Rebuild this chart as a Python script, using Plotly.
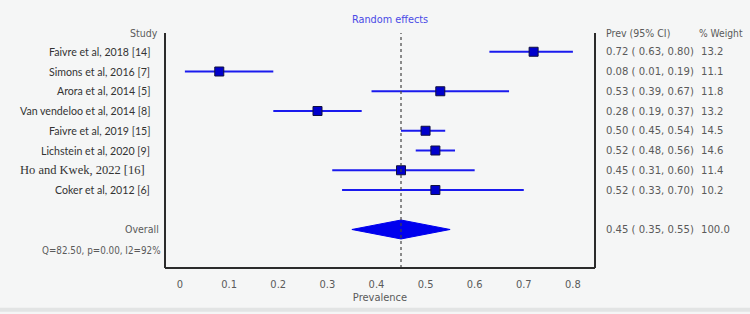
import plotly.graph_objects as go

studies = ["Faivre et al, 2018 [14]", "Simons et al, 2016 [7]", "Arora et al, 2014 [5]",
           "Van vendeloo et al, 2014 [8]", "Faivre et al, 2019 [15]", "Lichstein et al, 2020 [9]",
           "Ho and Kwek, 2022 [16]", "Coker et al, 2012 [6]"]
prev = [0.72, 0.08, 0.53, 0.28, 0.50, 0.52, 0.45, 0.52]
lo = [0.63, 0.01, 0.39, 0.19, 0.45, 0.48, 0.31, 0.33]
hi = [0.80, 0.19, 0.67, 0.37, 0.54, 0.56, 0.60, 0.70]
weight = [13.2, 11.1, 11.8, 13.2, 14.5, 14.6, 11.4, 10.2]
overall = 0.45
overall_lo = 0.35
overall_hi = 0.55
overall_weight = 100.0
het_text = "Q=82.50, p=0.00, I2=92%"
tick_vals = [0, 0.1, 0.2, 0.3, 0.4, 0.5, 0.6, 0.7, 0.8]
tick_text = ["0", "0.1", "0.2", "0.3", "0.4", "0.5", "0.6", "0.7", "0.8"]

rows = list(range(len(studies)))
overall_row = len(studies) + 1

BLUE = "#1a1aee"
LABEL_FONT = "Lato, 'Open Sans', sans-serif"
NARROW = "'DejaVu Sans Condensed', 'Liberation Sans Narrow', 'Liberation Sans', sans-serif"
GRAY = "#5a5a5a"

fig = go.Figure()

fig.add_trace(go.Scatter(
    x=prev, y=rows, mode="markers",
    marker=dict(symbol="square", size=9, color="#0000cc", line=dict(color="#101040", width=1)),
    error_x=dict(type="data", symmetric=False,
                 array=[h - p for h, p in zip(hi, prev)],
                 arrayminus=[p - l for p, l in zip(prev, lo)],
                 color=BLUE, thickness=2, width=0),
    showlegend=False, hoverinfo="skip"))

fig.add_trace(go.Scatter(
    x=[overall_lo, overall, overall_hi, overall, overall_lo],
    y=[overall_row, overall_row - 0.48, overall_row, overall_row + 0.48, overall_row],
    mode="lines", fill="toself", fillcolor="#0000ee",
    line=dict(color="#0000ee", width=1), showlegend=False, hoverinfo="skip"))

fig.add_shape(type="line", xref="x", yref="paper", x0=overall, x1=overall, y0=0, y1=1,
              line=dict(color="#444", width=1.2, dash="dot"))

for x0, x1, y0, y1 in [(0, 0, 0, 1), (1, 1, 0, 1), (0, 1, 0, 0)]:
    fig.add_shape(type="line", xref="paper", yref="paper", x0=x0, x1=x1, y0=y0, y1=y1,
                  line=dict(color="#2b2b2b", width=2))

def px_to_paper(px):
    return (px - 165) / 430.0

ann = []
for i, s in enumerate(studies):
    if s.startswith("Ho and"):
        fam, size, edge = "'Liberation Serif', 'DejaVu Serif', serif", 12.5, 147
    else:
        fam, size, edge = LABEL_FONT, 10.6, 152
    ann.append(dict(x=px_to_paper(edge), y=i, xref="paper", yref="y", text=s,
                    xanchor="right", yanchor="middle", showarrow=False,
                    font=dict(family=fam, size=size, color="#333")))
ann.append(dict(x=px_to_paper(160), y=-0.95, xref="paper", yref="y", text="Study",
                xanchor="right", yanchor="middle", showarrow=False,
                font=dict(family=NARROW, size=10.5, color=GRAY)))
ann.append(dict(x=px_to_paper(161), y=overall_row, xref="paper", yref="y", text="Overall",
                xanchor="right", yanchor="middle", showarrow=False,
                font=dict(family=NARROW, size=10.5, color=GRAY)))
ann.append(dict(x=px_to_paper(163), y=overall_row + 1.05, xref="paper", yref="y", text=het_text,
                xanchor="right", yanchor="middle", showarrow=False,
                font=dict(family=NARROW, size=9.8, color=GRAY)))

ann.append(dict(x=px_to_paper(604), y=-0.95, xref="paper", yref="y", text="Prev (95% CI)",
                xanchor="left", yanchor="middle", showarrow=False,
                font=dict(family=NARROW, size=10.5, color=GRAY)))
ann.append(dict(x=px_to_paper(697), y=-0.95, xref="paper", yref="y", text="% Weight",
                xanchor="left", yanchor="middle", showarrow=False,
                font=dict(family=NARROW, size=10.2, color=GRAY)))
vals = list(zip(prev, lo, hi, weight, rows)) + [(overall, overall_lo, overall_hi, overall_weight, overall_row)]
for p, l, h, w, r in vals:
    ann.append(dict(x=px_to_paper(604), y=r, xref="paper", yref="y",
                    text=f"{p:.2f} ( {l:.2f}, {h:.2f})",
                    xanchor="left", yanchor="middle", showarrow=False,
                    font=dict(family=NARROW, size=11.2, color=GRAY)))
    ann.append(dict(x=px_to_paper(699), y=r, xref="paper", yref="y",
                    text=f"{w:.1f}",
                    xanchor="left", yanchor="middle", showarrow=False,
                    font=dict(family=NARROW, size=11.2, color=GRAY)))

ann.append(dict(x=px_to_paper(390), y=(270 - 19) / 237.0, xref="paper", yref="paper",
                text="Random effects", xanchor="center", yanchor="middle", showarrow=False,
                font=dict(family=NARROW, size=10.8, color="#4a4ae6")))

fig.add_shape(type="rect", xref="paper", yref="paper",
              x0=px_to_paper(0), x1=px_to_paper(750), y0=(270 - 314) / 237.0, y1=(270 - 310) / 237.0,
              fillcolor="#e2e4e4", line=dict(width=0), layer="below")

fig.update_layout(
    width=750, height=314,
    margin=dict(l=165, r=155, t=33, b=44),
    paper_bgcolor="#f5f6f6", plot_bgcolor="#f5f6f6",
    annotations=ann,
    xaxis=dict(range=[-0.0305, 0.845], tickvals=tick_vals, ticktext=tick_text,
               showgrid=False, zeroline=False, showline=False, ticks="",
               ticklabelstandoff=8,
               tickfont=dict(family=NARROW, size=11, color=GRAY),
               title=dict(text="Prevalence", standoff=3,
                          font=dict(family=NARROW, size=11, color=GRAY))),
    yaxis=dict(range=[10.95, -0.95], showgrid=False, zeroline=False, showline=False,
               showticklabels=False, ticks=""),
)

fig.write_html("out.html")
